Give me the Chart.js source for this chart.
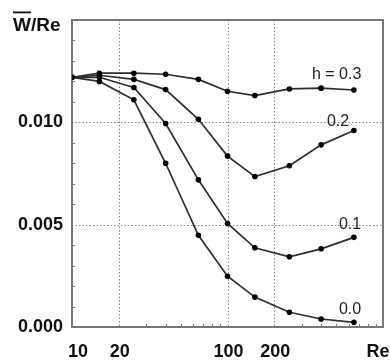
<!DOCTYPE html>
<html>
<head>
<meta charset="utf-8">
<script src="https://cdn.jsdelivr.net/npm/chart.js@4"></script>
<style>
  html, body { margin: 0; padding: 0; background: #fff; }
  #wrap { width: 390px; height: 360px; position: relative; }
</style>
</head>
<body>
<div id="wrap"><canvas id="c" width="390" height="360"></canvas></div>
<script>
// Reynolds numbers (x categories)
const reValues = [10, 15, 25, 40, 65, 100, 150, 250, 400, 650];
// W/Re series for each h
const h03 = [0.0122, 0.0124, 0.0124, 0.01235, 0.0121, 0.01152, 0.01131, 0.01163, 0.01167, 0.01158];
const h02 = [0.0122, 0.0123, 0.0121, 0.0116, 0.01015, 0.00835, 0.00735, 0.00788, 0.0089, 0.0096];
const h01 = [0.0122, 0.0122, 0.0117, 0.00994, 0.00719, 0.00506, 0.00387, 0.00343, 0.00382, 0.00438];
const h00 = [0.0122, 0.0120, 0.0111, 0.0080, 0.00448, 0.00248, 0.00146, 0.00072, 0.00039, 0.00023];
const seriesLabels = ['h = 0.3', '0.2', '0.1', '0.0'];
// tick labels
const xTickValues = [10, 20, 100, 200];
const xTickLabels = ['10', '20', '100', '200'];
const yTickValues = [0, 0.005, 0.010];
const yTickLabels = ['0.000', '0.005', '0.010'];
const xGridValues = [20, 100, 200];
const yGridValues = [0.005, 0.010];
const xMinorTicks = [30, 40, 50, 60, 70, 80, 90, 300, 400, 500, 600, 700, 800, 900];
const yMinorTicks = [0.001, 0.002, 0.003, 0.004, 0.006, 0.007, 0.008, 0.009, 0.011, 0.012, 0.013, 0.014];
const xTitle = 'Re';
const yTitle = 'W/Re';

const seriesData = [h03, h02, h01, h00];
// pixel offsets of the curve labels relative to each curve's last point
const labelOffsets = [[-42, -15], [-27, -9], [-15, -13], [-15, -13]];

const datasets = seriesData.map((vals, i) => ({
  label: seriesLabels[i],
  data: reValues.map((x, j) => ({ x: x, y: vals[j] })),
  borderColor: '#2e2e2e',
  borderWidth: 1.7,
  pointRadius: 2.8,
  pointBackgroundColor: '#000000',
  pointBorderColor: '#000000',
  pointBorderWidth: 0,
  tension: 0,
  fill: false
}));

const decor = {
  id: 'decor',
  beforeDatasetsDraw(chart) {
    const ctx = chart.ctx;
    const a = chart.chartArea;
    const xs = chart.scales.x, ys = chart.scales.y;
    ctx.save();
    // dotted grid
    ctx.strokeStyle = '#858585';
    ctx.lineWidth = 1;
    ctx.setLineDash([1.5, 2]);
    xGridValues.forEach(v => {
      const px = Math.round(xs.getPixelForValue(v)) + 0.5;
      ctx.beginPath(); ctx.moveTo(px, a.top); ctx.lineTo(px, a.bottom); ctx.stroke();
    });
    yGridValues.forEach(v => {
      const py = Math.round(ys.getPixelForValue(v)) + 0.5;
      ctx.beginPath(); ctx.moveTo(a.left, py); ctx.lineTo(a.right, py); ctx.stroke();
    });
    ctx.setLineDash([]);
    // minor ticks, inward
    ctx.strokeStyle = '#777';
    ctx.lineWidth = 1;
    xMinorTicks.forEach(v => {
      const px = Math.round(xs.getPixelForValue(v)) + 0.5;
      ctx.beginPath(); ctx.moveTo(px, a.bottom); ctx.lineTo(px, a.bottom - 3); ctx.stroke();
    });
    yMinorTicks.forEach(v => {
      const py = Math.round(ys.getPixelForValue(v)) + 0.5;
      ctx.beginPath(); ctx.moveTo(a.left, py); ctx.lineTo(a.left + 3, py); ctx.stroke();
    });
    // frame
    ctx.strokeStyle = '#777777';
    ctx.lineWidth = 2;
    ctx.strokeRect(a.left, a.top, a.right - a.left, a.bottom - a.top);
    ctx.restore();
  },
  afterDraw(chart) {
    const ctx = chart.ctx;
    const a = chart.chartArea;
    const xs = chart.scales.x, ys = chart.scales.y;
    ctx.save();
    // x tick labels
    ctx.fillStyle = '#111';
    ctx.font = 'bold 18px "Liberation Sans", Arial, sans-serif';
    ctx.textAlign = 'center';
    ctx.textBaseline = 'middle';
    xTickValues.forEach((v, i) => {
      let px = xs.getPixelForValue(v);
      if (i === 0) px += 5;
      ctx.fillText(xTickLabels[i], px + 1, 352);
    });
    ctx.fillText(xTitle, a.right - 5, 352);
    // y title with overline on W
    ctx.textAlign = 'left';
    ctx.textBaseline = 'alphabetic';
    ctx.font = 'bold 19px "Liberation Sans", Arial, sans-serif';
    ctx.fillText(yTitle, 13, 31);
    const wW = ctx.measureText('W').width;
    ctx.fillRect(13, 11.5, wW, 1.8);
    // curve labels
    ctx.font = '16px "Liberation Sans", Arial, sans-serif';
    ctx.fillStyle = '#222';
    ctx.textBaseline = 'middle';
    seriesData.forEach((vals, i) => {
      const last = vals.length - 1;
      const px = xs.getPixelForValue(reValues[last]) + labelOffsets[i][0];
      const py = ys.getPixelForValue(vals[last]) + labelOffsets[i][1];
      ctx.fillText(seriesLabels[i], px, py);
    });
    ctx.restore();
  }
};

new Chart(document.getElementById('c'), {
  type: 'line',
  data: { datasets: datasets },
  options: {
    responsive: false,
    animation: false,
    layout: { padding: { top: 20, right: 7, left: 0, bottom: 0 } },
    plugins: { legend: { display: false }, tooltip: { enabled: false } },
    scales: {
      x: {
        type: 'logarithmic',
        min: 10, max: 1000,
        grid: { display: false, drawTicks: false },
        border: { display: false },
        ticks: { display: false },
        afterFit(s) { s.height = 33; }
      },
      y: {
        type: 'linear',
        min: 0, max: 0.015,
        grid: { display: false, drawTicks: false },
        border: { display: false },
        afterBuildTicks(s) { s.ticks = yTickValues.map(v => ({ value: v })); },
        ticks: {
          padding: 9,
          color: '#111',
          font: { family: '"Liberation Sans", Arial, sans-serif', size: 18, weight: 'bold' },
          callback: (v) => {
            const i = yTickValues.findIndex(t => Math.abs(t - v) < 1e-9);
            return i >= 0 ? yTickLabels[i] : '';
          }
        },
        afterFit(s) { s.width = 72; }
      }
    }
  },
  plugins: [decor]
});
</script>
</body>
</html>
